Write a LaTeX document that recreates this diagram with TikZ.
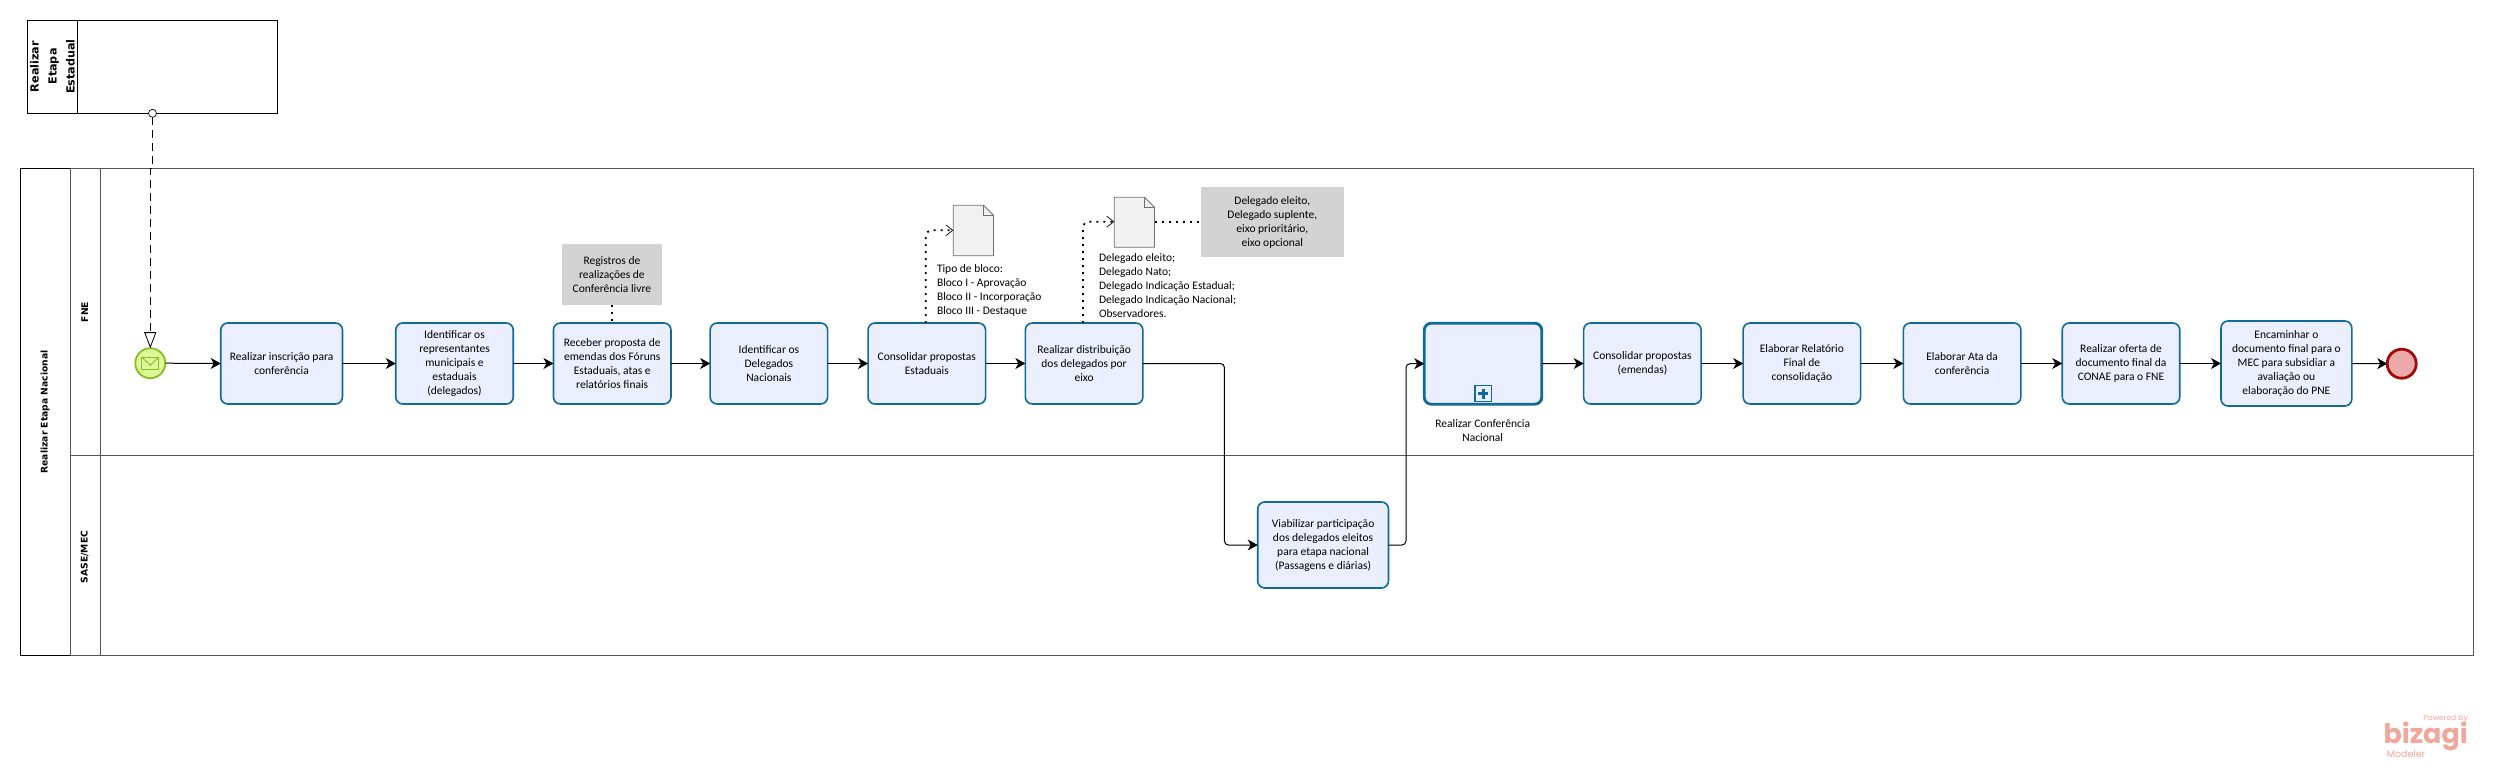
\documentclass[tikz,border=0pt]{standalone}
\usepackage{fontspec}
\setmainfont{Carlito}
\newfontfamily\hdrfont{DejaVu Sans}
\newfontfamily\logofont{Poppins}
\usetikzlibrary{arrows.meta,calc}
\definecolor{taskfill}{HTML}{EBEFFD}
\definecolor{taskline}{HTML}{0F6A9B}
\definecolor{lanegray}{HTML}{555555}
\definecolor{notegray}{HTML}{D3D3D3}
\definecolor{docfill}{HTML}{F1F1F1}
\definecolor{docline}{HTML}{707070}
\definecolor{startfill}{HTML}{DDF79A}
\definecolor{startline}{HTML}{86C01E}
\definecolor{endfill}{HTML}{EBA9A9}
\definecolor{endline}{HTML}{A00A0A}
\definecolor{logocol}{HTML}{F0A79C}
\tikzset{
  x=1pt,y=-1pt,
  body/.style={font=\fontsize{11.5}{14}\selectfont,align=center,inner sep=0pt,outer sep=0pt},
  task/.style={body,draw=taskline,fill=taskfill,line width=1.6pt,rounded corners=7pt,minimum width=117.5pt,minimum height=81pt},
  subproc/.style={task,line width=2.8pt},
  note/.style={body,fill=notegray,draw=none},
  doclabel/.style={body,align=left,anchor=north west},
  docshape/.style={inner sep=0pt,outer sep=0pt,minimum width=40.2pt},
  hdr/.style={font=\hdrfont\bfseries\fontsize{9.2}{18}\selectfont,align=center,rotate=90,inner sep=0pt},
  flow/.style={draw=black,line width=1pt,-{Stealth[length=10pt,width=11pt,inset=3pt]}},
  assoc/.style={draw=black,line width=1.8pt,dash pattern=on 2pt off 5pt},
  assocarrow/.style={assoc,-{Straight Barb[length=7pt,width=11pt,line width=0.7pt]}},
  msg/.style={draw=black,line width=0.8pt,dash pattern=on 8pt off 5pt,-{Triangle[open,length=16pt,width=12pt,fill=white]}},
}
\begin{document}
\begin{tikzpicture}
\useasboundingbox (0,0) rectangle (2493,768);
\fill[white] (0,0) rectangle (2493,768);

% top pool
\draw[black,line width=1pt] (27.5,20.3) rectangle (277.4,113.3);
\draw[black,line width=1pt] (77.3,20.3) -- (77.3,113.3);
\node[hdr,font=\hdrfont\bfseries\fontsize{11.2}{18}\selectfont] (poolA) at (52.4,66.5) {Realizar\\Etapa\\Estadual};

% main pool
\draw[lanegray,line width=1pt] (20.6,168.3) rectangle (2473.5,655.3);
\draw[black,line width=1pt] (70.4,168.3) -- (20.6,168.3) -- (20.6,655.3) -- (70.4,655.3);
\draw[lanegray,line width=1pt] (70.4,168.3) -- (70.4,655.3);
\draw[lanegray,line width=1pt] (100.6,168.3) -- (100.6,655.3);
\draw[lanegray,line width=1pt] (70.4,455.3) -- (2473.5,455.3);
\node[hdr] (poolB) at (45,412) {Realizar Etapa Nacional};
\node[hdr] (laneA) at (84.7,312) {FNE};
\node[hdr] (laneB) at (84.7,557) {SASE/MEC};

% tasks
\node[task,minimum width=121.7pt] (t1) at (281.6,363.5) {Realizar inscrição para\\conferência};
\node[task] (t2) at (454.5,363.5) {Identificar os\\representantes\\municipais e\\estaduais\\(delegados)};
\node[task] (t3) at (612.2,363.5) {Receber proposta de\\emendas dos Fóruns\\Estaduais, atas e\\relatórios finais};
\node[task] (t4) at (768.9,363.5) {Identificar os\\Delegados\\Nacionais};
\node[task] (t5) at (926.8,363.5) {Consolidar propostas\\Estaduais};
\node[task] (t6) at (1084.1,363.5) {Realizar distribuição\\dos delegados por\\eixo};
\node[subproc] (sub) at (1483,363.7) {};
\node[task] (t7) at (1642.4,363.5) {Consolidar propostas\\(emendas)};
\node[task] (t8) at (1801.9,363.5) {Elaborar Relatório\\Final de\\consolidação};
\node[task] (t9) at (1962.1,363.5) {Elaborar Ata da\\conferência};
\node[task] (t10) at (2121,363.5) {Realizar oferta de\\documento final da\\CONAE para o FNE};
\node[task,minimum width=130.8pt,minimum height=85pt] (t11) at (2286.4,363.5) {Encaminhar o\\documento final para o\\MEC para subsidiar a\\avaliação ou\\elaboração do PNE};
\node[task,minimum width=130.8pt,minimum height=86pt] (viab) at (1323.1,545) {Viabilizar participação\\dos delegados eleitos\\para etapa nacional\\(Passagens e diárias)};
\node[body] (sublabel) at (1482.7,430.3) {Realizar Conferência\\Nacional};

% subprocess marker
\node[draw=taskline,fill=taskfill,line width=1.2pt,minimum width=16.5pt,minimum height=16pt,inner sep=0pt,outer sep=0pt] (submark) at (1483.2,393.7) {};
\fill[taskline] ($(submark.center)+(-5,-1.5)$) rectangle ($(submark.center)+(5,1.5)$);
\fill[taskline] ($(submark.center)+(-1.7,-5)$) rectangle ($(submark.center)+(1.7,5)$);

% events
\node[circle,draw=startline,fill=startfill,line width=1.8pt,minimum size=30pt,inner sep=0pt,outer sep=0pt] (start) at (150.3,363.2) {};
\draw[startline,line width=0.9pt] ($(start.center)+(-8.5,-6)$) rectangle ($(start.center)+(8.5,6)$);
\draw[startline,line width=0.9pt] ($(start.center)+(-8.5,-6)$) -- ($(start.center)+(0,2)$) -- ($(start.center)+(8.5,-6)$);
\node[circle,draw=endline,fill=endfill,line width=2.8pt,minimum size=29pt,inner sep=0pt,outer sep=0pt] (finish) at (2401.7,363.7) {};

% notes
\node[note,minimum width=100.5pt,minimum height=60.4pt] (note1) at (611.9,274.5) {Registros de\\realizações de\\Conferência livre};
\node[note,minimum width=143.4pt,minimum height=69.4pt] (note2) at (1272.3,222) {Delegado eleito,\\Delegado suplente,\\eixo prioritário,\\eixo opcional};

% data objects
\node[docshape,minimum height=50.4pt] (doc1) at (973.4,230.5) {};
\node[docshape,minimum height=50pt] (doc2) at (1134.4,222.3) {};
\foreach \d in {doc1,doc2}{
  \draw[docline,fill=docfill,line width=0.8pt] (\d.north west) -- ($(\d.north east)+(-10,0)$) -- ($(\d.north east)+(0,10)$) -- (\d.south east) -- (\d.south west) -- cycle;
  \draw[docline,line width=0.8pt] ($(\d.north east)+(-10,0)$) -- ($(\d.north east)+(-10,10)$) -- ($(\d.north east)+(0,10)$);
}
\node[doclabel] (doc1label) at (937,265) {Tipo de bloco:\\Bloco I - Aprovação\\Bloco II - Incorporação\\Bloco III - Destaque};
\node[doclabel] (doc2label) at (1099,253.3) {Delegado eleito;\\Delegado Nato;\\Delegado Indicação Estadual;\\Delegado Indicação Nacional;\\Observadores.};

% sequence flows
\draw[flow] (start.east) -- (t1.west);
\draw[flow] (t1.east) -- (t2.west);
\draw[flow] (t2.east) -- (t3.west);
\draw[flow] (t3.east) -- (t4.west);
\draw[flow] (t4.east) -- (t5.west);
\draw[flow] (t5.east) -- (t6.west);
\draw[flow] (sub.east) -- (t7.west);
\draw[flow] (t7.east) -- (t8.west);
\draw[flow] (t8.east) -- (t9.west);
\draw[flow] (t9.east) -- (t10.west);
\draw[flow] (t10.east) -- (t11.west);
\draw[flow] (t11.east) -- (finish.west);
\coordinate (bendA) at (1224.4,450);
\coordinate (bendB) at (1406,450);
\draw[flow,rounded corners=4pt] (t6.east) -- (t6.east -| bendA) -- (bendA |- viab.west) -- (viab.west);
\draw[flow,rounded corners=4pt] (viab.east) -- (viab.east -| bendB) -- (bendB |- sub.west) -- (sub.west);

% associations
\draw[assoc] (note1.south) -- (t3.north -| note1.south);
\coordinate (a5) at (925.8,230.3);
\coordinate (a6) at (1083,221.7);
\draw[assocarrow,rounded corners=6pt] (t5.north -| a5) -- (a5) -- (a5 -| doc1.west);
\draw[assocarrow,rounded corners=6pt] (t6.north -| a6) -- (a6) -- (a6 -| doc2.west);
\draw[assoc] (a6 -| doc2.east) -- (a6 -| note2.west);

% message flow
\node[circle,draw=black,fill=white,line width=0.7pt,minimum size=8pt,inner sep=0pt,outer sep=0pt] (msgorigin) at (152.5,113.3) {};
\coordinate (msgbend) at (150.3,168.3);
\draw[msg] (msgorigin.south) -- (msgorigin.south |- msgbend) -- (msgbend) -- (start.north);

% logo
\node[text=logocol,inner sep=0pt,anchor=east,font=\logofont\fontsize{7.6}{8}\selectfont] (logoA) at (2468,719) {Powered by};
\node[text=logocol,inner sep=0pt,anchor=east,font=\logofont\bfseries\fontsize{27}{27}\selectfont] (logoB) at (2468,736) {bizagi};
\node[text=logocol,inner sep=0pt,anchor=west,font=\logofont\fontsize{9.5}{10}\selectfont] (logoC) at (2386.7,754) {Modeler};
\end{tikzpicture}
\end{document}
